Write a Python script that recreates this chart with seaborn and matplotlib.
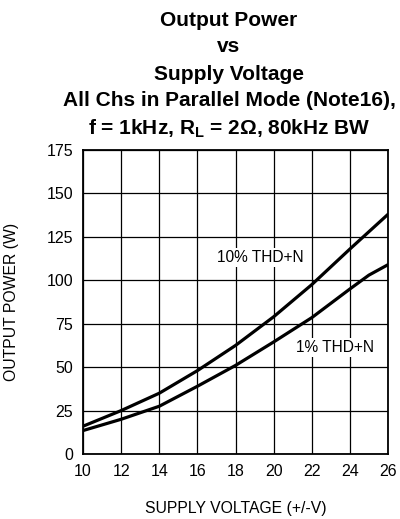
import pandas as pd
import matplotlib
matplotlib.use("Agg")
import matplotlib.pyplot as plt
import seaborn as sns

# ======================================
# DATA
# ======================================

voltage_10 = [10, 12, 14, 16, 18, 20, 22, 24, 26]
power_10 = [16, 25, 35, 48, 62.5, 79, 97.5, 118, 138]

voltage_1 = [10, 12, 14, 16, 18, 20, 22, 24, 25, 26]
power_1 = [13.5, 20, 27.5, 39, 51, 64.5, 78.5, 95, 103, 109]

series_names = ["10% THD+N", "1% THD+N"]
x_ticks = [10, 12, 14, 16, 18, 20, 22, 24, 26]
y_ticks = [0, 25, 50, 75, 100, 125, 150, 175]

df = pd.concat([
    pd.DataFrame({"V": voltage_10, "P": power_10, "curve": series_names[0]}),
    pd.DataFrame({"V": voltage_1, "P": power_1, "curve": series_names[1]}),
])

# ======================================
# STYLE
# ======================================

sns.set_style("white")
plt.rcParams["font.family"] = ["Liberation Sans", "DejaVu Sans"]
plt.rcParams["text.color"] = "black"
plt.rcParams["axes.labelcolor"] = "black"
plt.rcParams["mathtext.fontset"] = "custom"
plt.rcParams["mathtext.rm"] = "Liberation Sans:bold"
plt.rcParams["mathtext.bf"] = "Liberation Sans:bold"

fig = plt.figure(figsize=(4.0, 5.19), dpi=100)
ax = fig.add_axes([0.2075, 0.1252, 0.7625, 0.5857])

sns.lineplot(
    data=df, x="V", y="P", hue="curve",
    palette=["black", "black"], linewidth=2.3,
    legend=False, ax=ax, sort=False
)

ax.set_xlim(10, 26)
ax.set_ylim(0, 175)
ax.set_xticks(x_ticks)
ax.set_yticks(y_ticks)
ax.grid(True, color="black", linewidth=0.9)
ax.tick_params(length=0, labelsize=11.5, colors="black")
ax.tick_params(axis="y", pad=7)
ax.tick_params(axis="x", pad=7)
for s in ax.spines.values():
    s.set_color("black")
    s.set_linewidth(1.3)

ax.set_xlabel("SUPPLY VOLTAGE (+/-V)", fontsize=11.3, labelpad=16)
ax.set_ylabel("OUTPUT POWER (W)", fontsize=11.3, labelpad=20)

# curve labels
ax.text(19.3, 113, series_names[0], fontsize=11.2, ha="center", va="center",
        bbox=dict(facecolor="white", edgecolor="none", pad=1.5))
ax.text(23.2, 61.5, series_names[1], fontsize=11.2, ha="center", va="center",
        bbox=dict(facecolor="white", edgecolor="none", pad=1.5))

# ======================================
# TITLE
# ======================================

title_lines = [
    (20, "Output Power"),
    (47, "vs"),
    (75, "Supply Voltage"),
    (101, "All Chs in Parallel Mode (Note16),"),
    (129, r"f = 1kHz, R$_\mathrm{L}$ = 2Ω, 80kHz BW"),
]
for y, t in title_lines:
    fig.text(229 / 400, 1 - y / 519, t, fontsize=15, fontweight="bold",
             ha="center", va="center")

fig.savefig("out.png", dpi=100)
